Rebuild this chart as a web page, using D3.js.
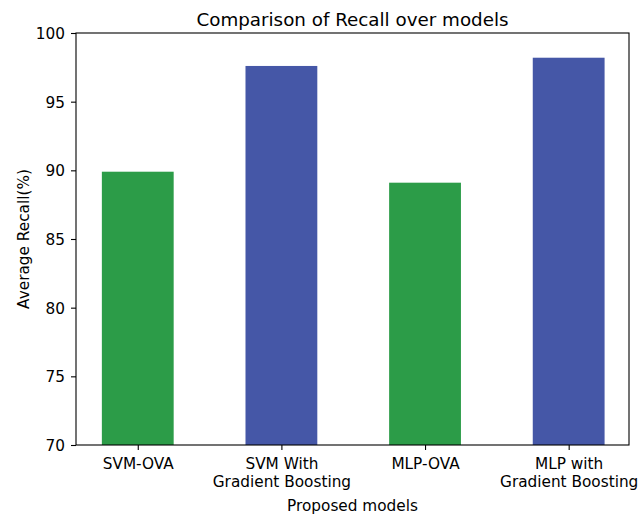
<!DOCTYPE html>
<html>
<head>
<meta charset="utf-8">
<script src="https://cdn.jsdelivr.net/npm/d3@7/dist/d3.min.js"></script>
<style>
body { margin: 0; background: #fff; }
svg text { font-family: "DejaVu Sans", sans-serif; fill: #000; }
</style>
</head>
<body>
<svg id="chart" width="639" height="517"></svg>
<script>
const categories = ["SVM-OVA", "SVM With\nGradient Boosting", "MLP-OVA", "MLP with\nGradient Boosting"];
const values = [89.9, 97.6, 89.1, 98.2];
const barColors = ["#2c9c48", "#4557a7", "#2c9c48", "#4557a7"];
const yTicks = [70, 75, 80, 85, 90, 95, 100];
const title = "Comparison of Recall over models";
const xLabel = "Proposed models";
const yLabel = "Average Recall(%)";

(function () {
const svg = d3.select("#chart");
const pL = 76, pR = 629, pT = 33, pB = 445;
const fs = "15.3px";

const x = d3.scaleLinear().domain([-0.43, 3.42]).range([pL, pR]);
const y = d3.scaleLinear().domain([70, 100]).range([pB, pT]);
const barW = 0.5;

svg.append("g").selectAll("rect").data(values).join("rect")
  .attr("x", (d, i) => x(i - barW / 2))
  .attr("width", (d, i) => x(i + barW / 2) - x(i - barW / 2))
  .attr("y", d => y(d))
  .attr("height", d => y(70) - y(d))
  .attr("fill", (d, i) => barColors[i]);

// Y axis
const yAxis = svg.append("g").attr("transform", `translate(${pL},0)`)
  .call(d3.axisLeft(y).tickValues(yTicks).tickSize(5).tickPadding(6).tickFormat(d3.format("d")));
yAxis.selectAll("text").style("font-size", fs).attr("dy", "0.36em");
yAxis.select(".domain").remove();
yAxis.selectAll("line").attr("stroke", "#000").attr("stroke-width", 1.1);

// X axis
const xAxis = svg.append("g").attr("transform", `translate(0,${pB})`)
  .call(d3.axisBottom(x).tickValues(d3.range(categories.length)).tickSize(5).tickPadding(5).tickFormat(""));
xAxis.select(".domain").remove();
xAxis.selectAll("line").attr("stroke", "#000").attr("stroke-width", 1.1);
xAxis.selectAll(".tick").each(function(d) {
  const lines = categories[d].split("\n");
  const t = d3.select(this).append("text")
    .attr("text-anchor", "middle")
    .style("font-size", fs);
  lines.forEach((ln, k) => {
    t.append("tspan").attr("x", 0).attr("y", 24 + k * 18).text(ln);
  });
});

// Frame
svg.append("rect")
  .attr("x", pL).attr("y", pT)
  .attr("width", pR - pL).attr("height", pB - pT)
  .attr("fill", "none").attr("stroke", "#000").attr("stroke-width", 1.1);

// Title & labels
svg.append("text").attr("x", (pL + pR) / 2).attr("y", 26)
  .attr("text-anchor", "middle").style("font-size", "18.3px").text(title);
svg.append("text").attr("x", (pL + pR) / 2).attr("y", 511)
  .attr("text-anchor", "middle").style("font-size", fs).text(xLabel);
svg.append("text")
  .attr("transform", `translate(29,${(pT + pB) / 2}) rotate(-90)`)
  .attr("text-anchor", "middle").style("font-size", fs).text(yLabel);
})();
</script>
</body>
</html>
